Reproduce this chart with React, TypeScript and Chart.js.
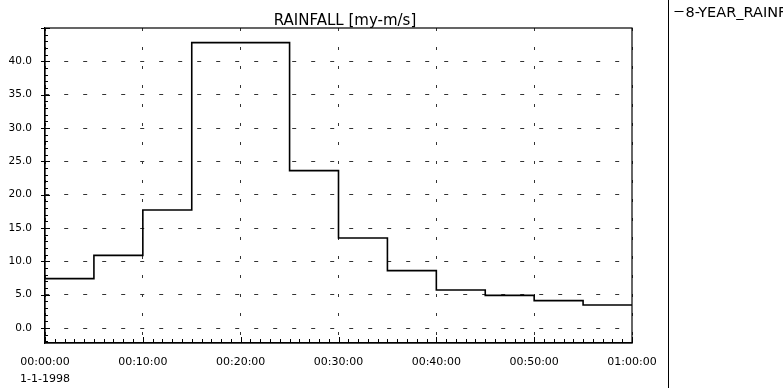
import React, { useEffect, useRef } from "react";
import { Chart, registerables } from "chart.js";

Chart.register(...registerables);

const TITLE = "RAINFALL [my-m/s]";
const SERIES_LABEL = "8-YEAR_RAINFALL";
const DATE_LABEL = "1-1-1998";

// step start times (minutes) and rainfall held over each 5-minute interval
const stepMinutes = [0, 5, 10, 15, 20, 25, 30, 35, 40, 45, 50, 55, 60];
const rainfall = [7.4, 10.9, 17.7, 42.8, 42.8, 23.6, 13.5, 8.6, 5.7, 4.9, 4.1, 3.45, 3.45];

const xTickMinutes = [0, 10, 20, 30, 40, 50, 60];
const yTickValues = [0, 5, 10, 15, 20, 25, 30, 35, 40];

const X_MIN = 0;
const X_MAX = 60;
const Y_MIN = -2.25;
const Y_MAX = 45;

const FONT = '"DejaVu Sans", "Liberation Sans", Arial, sans-serif';

function fmtTime(m: number): string {
  const h = Math.floor(m / 60);
  const mm = m % 60;
  const p = (n: number) => String(n).padStart(2, "0");
  return `${p(h)}:${p(mm)}:00`;
}

const framePlugin = {
  id: "frameAndLegend",
  afterDraw(chart: any) {
    const { ctx, chartArea: a, scales } = chart;
    const x = scales.x;
    const y = scales.y;
    ctx.save();
    ctx.strokeStyle = "#000";
    ctx.lineWidth = 1.2;
    ctx.setLineDash([]);
    ctx.strokeRect(a.left, a.top, a.right - a.left, a.bottom - a.top);

    ctx.lineWidth = 1;
    for (let v = Math.ceil(Y_MIN); v <= Y_MAX; v++) {
      const py = Math.round(y.getPixelForValue(v)) + 0.5;
      const major = v % 5 === 0;
      ctx.beginPath();
      ctx.moveTo(a.left - (major ? 4 : 1), py);
      ctx.lineTo(a.left + (major ? 5 : 3), py);
      ctx.stroke();
    }
    for (let m = X_MIN; m <= X_MAX; m++) {
      const px = Math.round(x.getPixelForValue(m)) + 0.5;
      const major = m % 10 === 0;
      ctx.beginPath();
      ctx.moveTo(px, a.bottom);
      ctx.lineTo(px, a.bottom - (major ? 6 : 4));
      ctx.stroke();
    }

    // title (centered slightly right of the plot centre, as in the original)
    ctx.fillStyle = "#000";
    ctx.font = `15px ${FONT}`;
    ctx.textAlign = "center";
    ctx.textBaseline = "alphabetic";
    ctx.fillText(TITLE, (a.left + a.right) / 2 + 6.5, 25);

    // legend panel
    const sepX = Math.round(a.right + 36) + 0.5;
    ctx.beginPath();
    ctx.moveTo(sepX, 0);
    ctx.lineTo(sepX, chart.height);
    ctx.stroke();

    ctx.beginPath();
    ctx.moveTo(sepX + 6, 11.5);
    ctx.lineTo(sepX + 15, 11.5);
    ctx.stroke();

    ctx.font = `14.5px ${FONT}`;
    ctx.textAlign = "left";
    ctx.fillText(SERIES_LABEL, sepX + 17, 16.5);
    ctx.restore();
  },
};

export default function App() {
  const ref = useRef<HTMLCanvasElement | null>(null);

  useEffect(() => {
    if (!ref.current) return;
    const data = stepMinutes.map((m, i) => ({ x: m, y: rainfall[i] }));
    const chart = new Chart(ref.current, {
      type: "line",
      data: {
        datasets: [
          {
            label: SERIES_LABEL,
            data,
            borderColor: "#000",
            borderWidth: 1.6,
            pointRadius: 0,
            fill: false,
            stepped: "before",
          },
        ],
      },
      options: {
        responsive: false,
        animation: false,
        layout: { padding: { left: 0, right: 151, top: 28, bottom: 0 } },
        plugins: {
          legend: { display: false },
          tooltip: { enabled: false },
          title: { display: false },
        },
        scales: {
          x: {
            type: "linear",
            min: X_MIN,
            max: X_MAX,
            afterBuildTicks: (s: any) => {
              s.ticks = xTickMinutes.map((v) => ({ value: v }));
            },
            afterFit: (s: any) => {
              s.height = 45;
            },
            ticks: {
              color: "#000",
              padding: 10,
              maxRotation: 0,
              autoSkip: false,
              font: { family: FONT, size: 11, lineHeight: 1.6 },
              callback: (v: any) => {
                const t = fmtTime(Number(v));
                return Number(v) === X_MIN ? [t, DATE_LABEL] : t;
              },
            },
            grid: {
              color: "#333",
              lineWidth: 1,
              drawTicks: false,
            },
            border: { display: true, color: "#000", width: 1.2, dash: [3, 16] },
          },
          y: {
            type: "linear",
            min: Y_MIN,
            max: Y_MAX,
            afterBuildTicks: (s: any) => {
              s.ticks = yTickValues.map((v) => ({ value: v }));
            },
            afterFit: (s: any) => {
              s.width = 45;
            },
            ticks: {
              color: "#000",
              padding: 13,
              font: { family: FONT, size: 10.5 },
              callback: (v: any) => Number(v).toFixed(1),
            },
            grid: {
              color: "#333",
              lineWidth: 1,
              drawTicks: false,
            },
            border: { display: true, color: "#000", width: 1.2, dash: [4, 15] },
          },
        },
      },
      plugins: [framePlugin],
    });
    return () => chart.destroy();
  }, []);

  return (
    <div style={{ position: "absolute", left: 0, top: 0, width: 783, height: 388, background: "#fff" }}>
      <canvas ref={ref} width={783} height={388} style={{ display: "block" }} />
    </div>
  );
}
